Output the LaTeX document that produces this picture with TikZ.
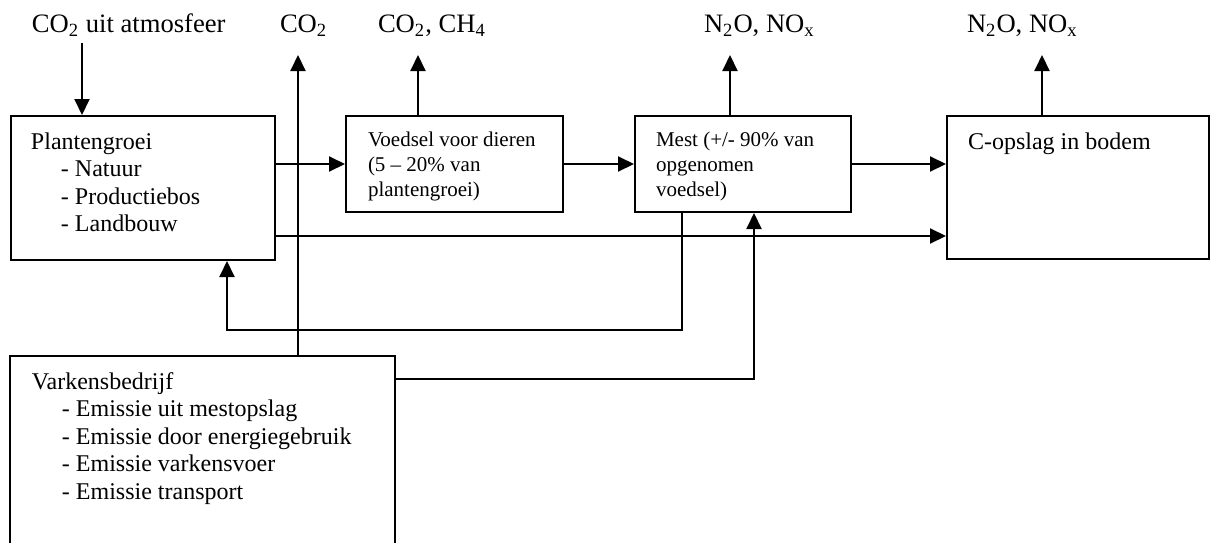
\documentclass[tikz,border=0pt]{standalone}
\usepackage{fontspec}
\setmainfont{Liberation Serif}
\usetikzlibrary{arrows.meta}
\begin{document}
\begin{tikzpicture}[x=0.5pt,y=-0.5pt,
  line width=1pt,
  box/.style={draw, rectangle, inner sep=0pt, anchor=north west},
  lbl/.style={anchor=base west, inner sep=0pt, font=\fontsize{13.3}{15}\selectfont},
  txt/.style={anchor=north west, inner sep=0pt, align=left, font=\fontsize{12}{13.75}\selectfont},
  stxt/.style={anchor=north west, inner sep=0pt, align=left, font=\fontsize{10.5}{12.5}\selectfont},
  arr/.style={-{Triangle[length=8pt,width=7.5pt]}}]
\useasboundingbox (0,0) rectangle (1210,542);
% boxes
\node[box, minimum width=132pt, minimum height=72pt] (plant) at (10,115) {};
\node[box, minimum width=108.5pt, minimum height=48pt] (voed) at (345,115) {};
\node[box, minimum width=108pt, minimum height=48pt] (mest) at (634,115) {};
\node[box, minimum width=131pt, minimum height=71.5pt] (cops) at (946,115) {};
\node[box, minimum width=192.5pt, minimum height=105pt] (vark) at (9,355) {};
% texts in boxes
\node[txt] (planttxt) at (30,128) {\rule{0pt}{10pt}Plantengroei\\
  \hspace*{15pt}- Natuur\\ \hspace*{15pt}- Productiebos\\ \hspace*{15pt}- Landbouw};
\node[stxt] (voedtxt) at (367,125) {\rule{0pt}{10pt}Voedsel voor dieren\\(5 -- 20\% van\\plantengroei)};
\node[stxt] (mesttxt) at (655,125) {\rule{0pt}{10pt}Mest (+/- 90\% van\\opgenomen\\voedsel)};
\node[txt] (copstxt) at (967,128) {\rule{0pt}{10pt}C-opslag in bodem};
\node[txt] (varktxt) at (31,368) {\rule{0pt}{10pt}Varkensbedrijf\\
  \hspace*{15pt}- Emissie uit mestopslag\\
  \hspace*{15pt}- Emissie door energiegebruik\\
  \hspace*{15pt}- Emissie varkensvoer\\
  \hspace*{15pt}- Emissie transport};
% top labels
\node[lbl] (atm) at (31,32) {CO\textsubscript{2} uit atmosfeer};
\node[lbl] (co2) at (279,32) {CO\textsubscript{2}};
\node[lbl] (co2ch4) at (377,32) {CO\textsubscript{2}, CH\textsubscript{4}};
\node[lbl] (n2oa) at (703,32) {N\textsubscript{2}O, NO\textsubscript{x}};
\node[lbl] (n2ob) at (966,32) {N\textsubscript{2}O, NO\textsubscript{x}};
% helper coordinates
\coordinate (a1) at (82,43);
\coordinate (t1) at (298,55);
\coordinate (t2) at (418,55);
\coordinate (t3) at (730,55);
\coordinate (t4) at (1042,55);
\coordinate (y236) at (0,236);
\coordinate (fb1) at (682,330);
\coordinate (fb2) at (227,330);
\coordinate (vm) at (754,379);
% connectors
\draw[arr] (a1) -- (a1 |- plant.north);
\draw[arr] (t1 |- vark.north) -- (t1);
\draw[arr] (t2 |- voed.north) -- (t2);
\draw[arr] (t3 |- mest.north) -- (t3);
\draw[arr] (t4 |- cops.north) -- (t4);
\draw[arr] (plant.east |- voed.west) -- (voed.west);
\draw[arr] (voed.east) -- (mest.west);
\draw[arr] (mest.east) -- (mest.east -| cops.west);
\draw[arr] (plant.east |- y236) -- (cops.west |- y236);
\draw[arr] (fb1 |- mest.south) -- (fb1) -- (fb2) -- (fb2 |- plant.south);
\draw[arr] (vark.east |- vm) -- (vm) -- (vm |- mest.south);
\end{tikzpicture}
\end{document}
